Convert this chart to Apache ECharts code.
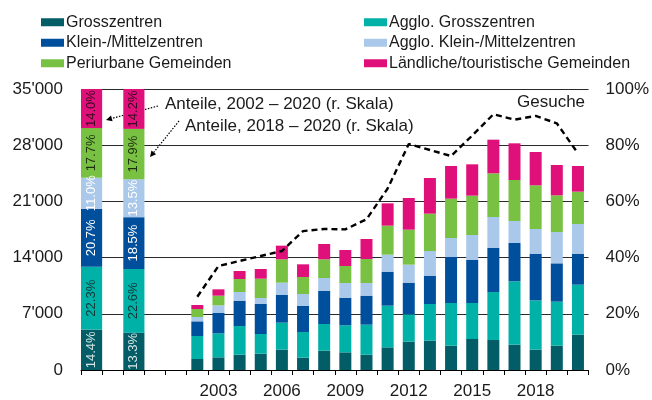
<!DOCTYPE html>
<html>
<head>
<meta charset="utf-8">
<script src="https://cdn.jsdelivr.net/npm/echarts@6/dist/echarts.min.js"></script>
<style>
html,body{margin:0;padding:0;background:#fff;}
#chart{width:652px;height:400px;}
</style>
</head>
<body>
<div id="chart"></div>
<script>
// ---- data ----
var shareCats = ['Anteile 2002–2020', ' ', 'Anteile 2018–2020', '  ', '   '];
var years = ['2002','2003','2004','2005','2006','2007','2008','2009','2010','2011','2012','2013','2014','2015','2016','2017','2018','2019','2020'];
var tickYears = ['2003','2006','2009','2012','2015','2018'];
var seriesNames = ['Grosszentren','Agglo. Grosszentren','Klein-/Mittelzentren','Agglo. Klein-/Mittelzentren','Periurbane Gemeinden','Ländliche/touristische Gemeinden'];
var grosszentren   = [1370,1578,1910,2034,2533,1536,2408,2201,1910,2823,3529,3654,3031,3861,3737,3155,2533,3031,4401];
var aggloGross     = [2865,2989,3571,2450,3363,3197,3322,3363,3737,5190,3405,4567,5315,4485,5979,7890,6145,5481,6228];
var kleinMittel    = [1826,2533,3155,3737,3446,3239,4152,3446,3612,4236,3944,3529,5729,5397,5480,4774,5812,4774,3861];
var aggloKlein     = [541,955,1080,747,1536,1495,1578,1827,1578,2117,2242,3073,2367,3073,3862,2740,3073,3903,3696];
var periurban      = [996,1204,1619,2408,2907,2117,2325,2117,2989,3613,4360,4650,4900,4899,5439,5107,5439,4567,4027];
var laendlich      = [498,789,996,1205,1702,1578,1910,1993,2491,2781,3944,4443,4068,3903,4193,4568,4152,3779,3197];
var gesuche        = [9130,12950,13580,14200,14820,17300,17560,17520,18770,22600,28150,27400,26650,29200,31850,31180,31640,30730,26990];
// shares in % (right scale), order as seriesNames
var shares20022020 = [14.4,22.3,20.7,11.0,17.7,14.0];
var shares20182020 = [13.3,22.6,18.5,13.5,17.9,14.2];

// ---- styling ----
var colors = ['#035d66','#00b1a7','#004f9c','#aac8ea','#79c143','#e0107a'];
var labelColors = ['#d8e6e6','#123838','#ffffff','#ffffff','#1c3010','#3a0a20'];
var FONT = '"Liberation Sans", Arial, Helvetica, sans-serif';

var categories = shareCats.concat(years);
var yearValues = [grosszentren, aggloGross, kleinMittel, aggloKlein, periurban, laendlich];
var nShare = shareCats.length;

function pad(arr){ var out=[]; for(var i=0;i<nShare;i++) out.push(null); return out.concat(arr); }
function shareData(i){
  var d = new Array(categories.length).fill(null);
  d[0] = shares20022020[i];
  d[2] = shares20182020[i];
  return d;
}

var series = [];
seriesNames.forEach(function(name, i){
  series.push({
    name: name, type: 'bar', stack: 'years', xAxisIndex: 0, yAxisIndex: 0,
    barWidth: 12, data: pad(yearValues[i]),
    itemStyle: {color: colors[i]}, emphasis: {disabled: true}
  });
});
seriesNames.forEach(function(name, i){
  series.push({
    name: name, type: 'bar', stack: 'shares', xAxisIndex: 1, yAxisIndex: 1,
    barWidth: '100%', data: shareData(i),
    itemStyle: {color: colors[i]}, emphasis: {disabled: true},
    label: {
      show: true, position: 'inside', rotate: 90,
      formatter: function(p){ return p.value == null ? '' : p.value.toFixed(1) + '%'; },
      color: labelColors[i], fontSize: 13, fontFamily: FONT
    }
  });
});
series.push({
  name: 'Gesuche', type: 'line', xAxisIndex: 0, yAxisIndex: 0,
  data: pad(gesuche), symbol: 'none', z: 5,
  lineStyle: {color: '#000', width: 2.4, type: [6, 4]}
});

function arrow(x1, y1, x2, y2){
  var dx = x2 - x1, dy = y2 - y1, L = Math.sqrt(dx*dx + dy*dy);
  var ux = dx / L, uy = dy / L, hl = 6, hw = 3;
  var bx = x2 - ux*hl, by = y2 - uy*hl;
  return [
    {type: 'line', shape: {x1: x1, y1: y1, x2: bx, y2: by},
     style: {stroke: '#000', lineWidth: 1.2, lineDash: [1.5, 1.5]}},
    {type: 'polygon', shape: {points: [[x2, y2], [bx - uy*hw, by + ux*hw], [bx + uy*hw, by - ux*hw]]},
     style: {fill: '#000'}}
  ];
}

var graphics = [
  {type: 'text', left: 165, top: 96, style: {text: 'Anteile, 2002 – 2020 (r. Skala)', font: '17px ' + FONT, fill: '#1a1a1a'}},
  {type: 'text', left: 185, top: 118, style: {text: 'Anteile, 2018 – 2020 (r. Skala)', font: '17px ' + FONT, fill: '#1a1a1a'}},
  {type: 'text', left: 517, top: 94, style: {text: 'Gesuche', font: '17px ' + FONT, fill: '#1a1a1a'}}
].concat(arrow(158, 106, 106, 120)).concat(arrow(179, 121, 150, 157));

var legendBase = {
  orient: 'vertical', top: 7, itemWidth: 23, itemHeight: 8, itemGap: 0, icon: 'rect',
  selectedMode: false,
  textStyle: {fontSize: 16, lineHeight: 20.5, color: '#1a1a1a', fontFamily: FONT, padding: [0, 0, 0, -3]}
};

var chart = echarts.init(document.getElementById('chart'), null, {renderer: 'canvas'});
chart.setOption({
  animation: false,
  backgroundColor: '#fff',
  textStyle: {fontFamily: FONT},
  grid: {left: 81, right: 61, top: 89, bottom: 30, containLabel: false},
  legend: [
    Object.assign({}, legendBase, {left: 36, data: [seriesNames[0], seriesNames[2], seriesNames[4]]}),
    Object.assign({}, legendBase, {left: 359, data: [seriesNames[1], seriesNames[3], seriesNames[5]]})
  ],
  xAxis: [
    {
      type: 'category', data: categories, boundaryGap: true,
      axisLine: {show: true, lineStyle: {color: '#000', width: 1}},
      axisTick: {show: true, interval: 0, length: 5, lineStyle: {color: '#000'}},
      axisLabel: {
        interval: 0, margin: 13, fontSize: 17, color: '#1a1a1a', fontFamily: FONT,
        formatter: function(v){ return tickYears.indexOf(v) >= 0 ? v : ''; }
      },
      splitLine: {show: false}
    },
    {type: 'category', data: categories, boundaryGap: true, show: false}
  ],
  yAxis: [
    {
      type: 'value', min: 0, max: 35000, interval: 7000,
      axisLine: {show: false}, axisTick: {show: false},
      axisLabel: {
        margin: 18, fontSize: 17, color: '#1a1a1a', fontFamily: FONT,
        formatter: function(v){ return String(v).replace(/\B(?=(\d{3})+(?!\d))/g, "'"); }
      },
      splitLine: {show: true, lineStyle: {color: '#2a2a2a', width: 1}}
    },
    {
      type: 'value', position: 'right', min: 0, max: 100, interval: 20,
      axisLine: {show: false}, axisTick: {show: false}, splitLine: {show: false},
      axisLabel: {margin: 17, fontSize: 17, color: '#1a1a1a', fontFamily: FONT, formatter: '{value}%'}
    }
  ],
  series: series,
  graphic: graphics
});
</script>
</body>
</html>
